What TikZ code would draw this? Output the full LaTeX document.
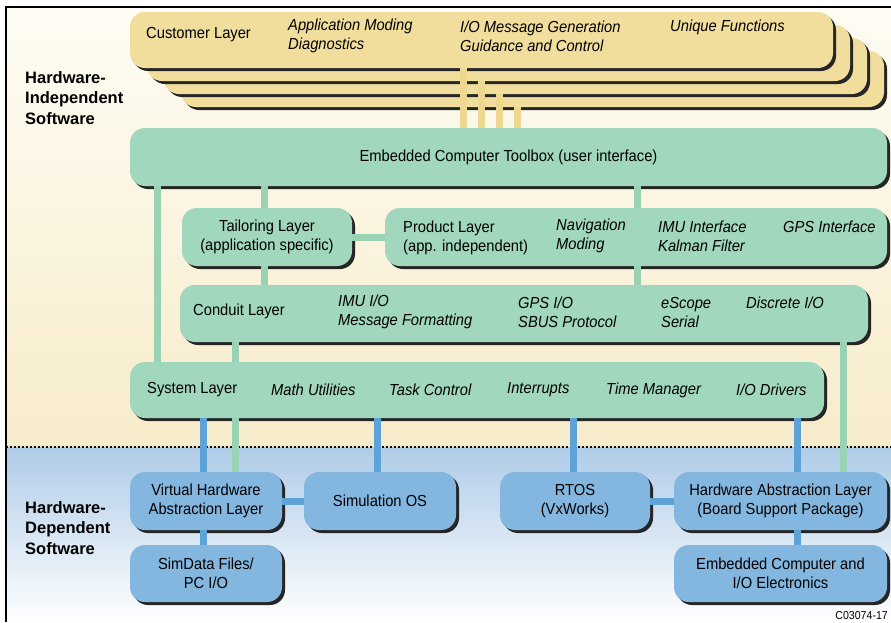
\documentclass[tikz,border=0pt]{standalone}
\usepackage{fontspec}
\setmainfont{Liberation Sans}[FakeStretch=0.92]
\newfontfamily\sidefont{Liberation Sans}
\usetikzlibrary{shadows}
\definecolor{custfill}{HTML}{F1DD9C}
\definecolor{custline}{HTML}{EED88F}
\definecolor{layfill}{HTML}{A1D7BC}
\definecolor{layline}{HTML}{99D3B4}
\definecolor{hwfill}{HTML}{83B7E0}
\definecolor{hwline}{HTML}{5EA3D8}
\definecolor{upbgtop}{HTML}{FEFCF4}
\definecolor{upbgbot}{HTML}{F7ECCA}
\definecolor{lowbgtop}{HTML}{AFCCE8}

\begin{document}
\begin{tikzpicture}[x=1pt,y=-1pt,
  font=\fontsize{16}{19}\selectfont,
  box/.style={rounded corners=15pt,inner sep=0pt,align=center,
    drop shadow={shadow xshift=3pt,shadow yshift=-3pt,opacity=1,fill=black!85}},
  cust/.style={box,fill=custfill,minimum width=703,minimum height=56},
  lay/.style={box,fill=layfill},
  hw/.style={box,fill=hwfill},
  item/.style={anchor=west,align=left,inner sep=0pt,font=\fontsize{16}{19}\selectfont\itshape},
  laytitle/.style={anchor=west,align=left,inner sep=0pt},
  sidetxt/.style={anchor=west,align=left,inner sep=0pt,font=\sidefont\bfseries\fontsize{16.5}{20.5}\selectfont},
  yline/.style={custline,line width=7pt},
  gline/.style={layline,line width=7pt},
  bline/.style={hwline,line width=7pt}]
\useasboundingbox (0,0) rectangle (891,622);
\shade[top color=upbgtop,bottom color=upbgbot] (6,7) rectangle (891,447);
\shade[top color=lowbgtop,bottom color=white] (6,447) rectangle (891,622);
\draw[line width=2pt] (6,622)--(6,7)--(891,7);
\draw[line width=1.6pt,dash pattern=on 2pt off 2pt] (6,447)--(891,447);

\node[sidetxt] (hwind) at (25,98) {Hardware-\\Independent\\Software};
\node[sidetxt] (hwdep) at (25,528) {Hardware-\\Dependent\\Software};

\node[cust] (cust4) at (532.5,79) {};
\node[cust] (cust3) at (515.5,66) {};
\node[cust] (cust2) at (498.5,53) {};
\node[cust] (cust1) at (481.5,40) {};
\node[laytitle] (custname) at (146,35) {Customer Layer};
\node[item] (appmode) at (288,36) {Application Moding\\Diagnostics};
\node[item] (iomsg) at (460,36) {I/O Message Generation\\Guidance and Control};
\node[item] (unique) at (670,27) {Unique Functions};

\node[lay,minimum width=757,minimum height=58] (tool) at (508.5,157) {Embedded Computer Toolbox (user interface)};
\node[lay,minimum width=170,minimum height=58] (tail) at (267,237) {Tailoring Layer\\(application specific)};
\node[lay,minimum width=502,minimum height=58] (prod) at (636,237) {};
\node[laytitle] (prodname) at (403,238) {Product Layer\\(app. independent)};
\node[item] (navi) at (556,236) {Navigation\\Moding};
\node[item] (imuif) at (658,236) {IMU Interface\\Kalman Filter};
\node[item] (gpsif) at (783,227) {GPS Interface};

\node[lay,minimum width=688,minimum height=57] (cond) at (524,313.5) {};
\node[laytitle] (condname) at (193,311) {Conduit Layer};
\node[item] (imuio) at (338,312) {IMU I/O\\Message Formatting};
\node[item] (gpsio) at (518,312) {GPS I/O\\SBUS Protocol};
\node[item] (escope) at (661,312) {eScope\\Serial};
\node[item] (discr) at (746,303) {Discrete I/O};

\node[lay,minimum width=694,minimum height=56] (sys) at (477,390) {};
\node[laytitle] (sysname) at (147,390) {System Layer};
\node[item] (math) at (271,390) {Math Utilities};
\node[item] (task) at (389,390) {Task Control};
\node[item] (intr) at (507,390) {Interrupts};
\node[item] (timem) at (606,390) {Time Manager};
\node[item] (iodrv) at (736,390) {I/O Drivers};

\node[hw,minimum width=152,minimum height=58] (vhal) at (206,501) {Virtual Hardware\\Abstraction Layer};
\node[hw,minimum width=152,minimum height=58] (simos) at (380,501) {Simulation OS};
\node[hw,minimum width=150,minimum height=58] (rtos) at (575,501) {RTOS\\(VxWorks)};
\node[hw,minimum width=213,minimum height=58] (hal) at (780.5,501) {Hardware Abstraction Layer\\(Board Support Package)};
\node[hw,minimum width=152,minimum height=57] (simdata) at (206,573.5) {SimData Files/\\PC I/O};
\node[hw,minimum width=213,minimum height=57] (embd) at (780.5,573.5) {Embedded Computer and\\I/O Electronics};
\node[anchor=east,inner sep=0pt,font=\fontsize{11.5}{13}\selectfont] (figid) at (888,616) {C03074-17};

\draw[yline] (cust1.south -| 463,0) -- (tool.north -| 463,0);
\draw[yline] (cust2.south -| 481,0) -- (tool.north -| 481,0);
\draw[yline] (cust3.south -| 499,0) -- (tool.north -| 499,0);
\draw[yline] (cust4.south -| 517,0) -- (tool.north -| 517,0);

\draw[gline] (tool.south -| 157,0) -- (sys.north -| 157,0);
\draw[gline] (tool.south -| 264,0) -- (tail.north -| 264,0);
\draw[gline] (tail.south -| 264,0) -- (cond.north -| 264,0);
\draw[gline] (tool.south -| 637,0) -- (prod.north -| 637,0);
\draw[gline] (prod.south -| 637,0) -- (cond.north -| 637,0);
\draw[gline] (tail.east) -- (prod.west);
\draw[gline] (cond.south -| 235,0) -- (sys.north -| 235,0);
\draw[gline] (sys.south -| 235,0) -- (vhal.north -| 235,0);
\draw[gline] (cond.south -| 843,0) -- (hal.north -| 843,0);

\draw[bline] (sys.south -| 203,0) -- (vhal.north -| 203,0);
\draw[bline] (vhal.south -| 203,0) -- (simdata.north -| 203,0);
\draw[bline] (sys.south -| 377,0) -- (simos.north -| 377,0);
\draw[bline] (sys.south -| 573,0) -- (rtos.north -| 573,0);
\draw[bline] (sys.south -| 797,0) -- (hal.north -| 797,0);
\draw[bline] (hal.south -| 797,0) -- (embd.north -| 797,0);
\draw[bline] (vhal.east) -- (simos.west);
\draw[bline] (rtos.east) -- (hal.west);
\end{tikzpicture}
\end{document}
